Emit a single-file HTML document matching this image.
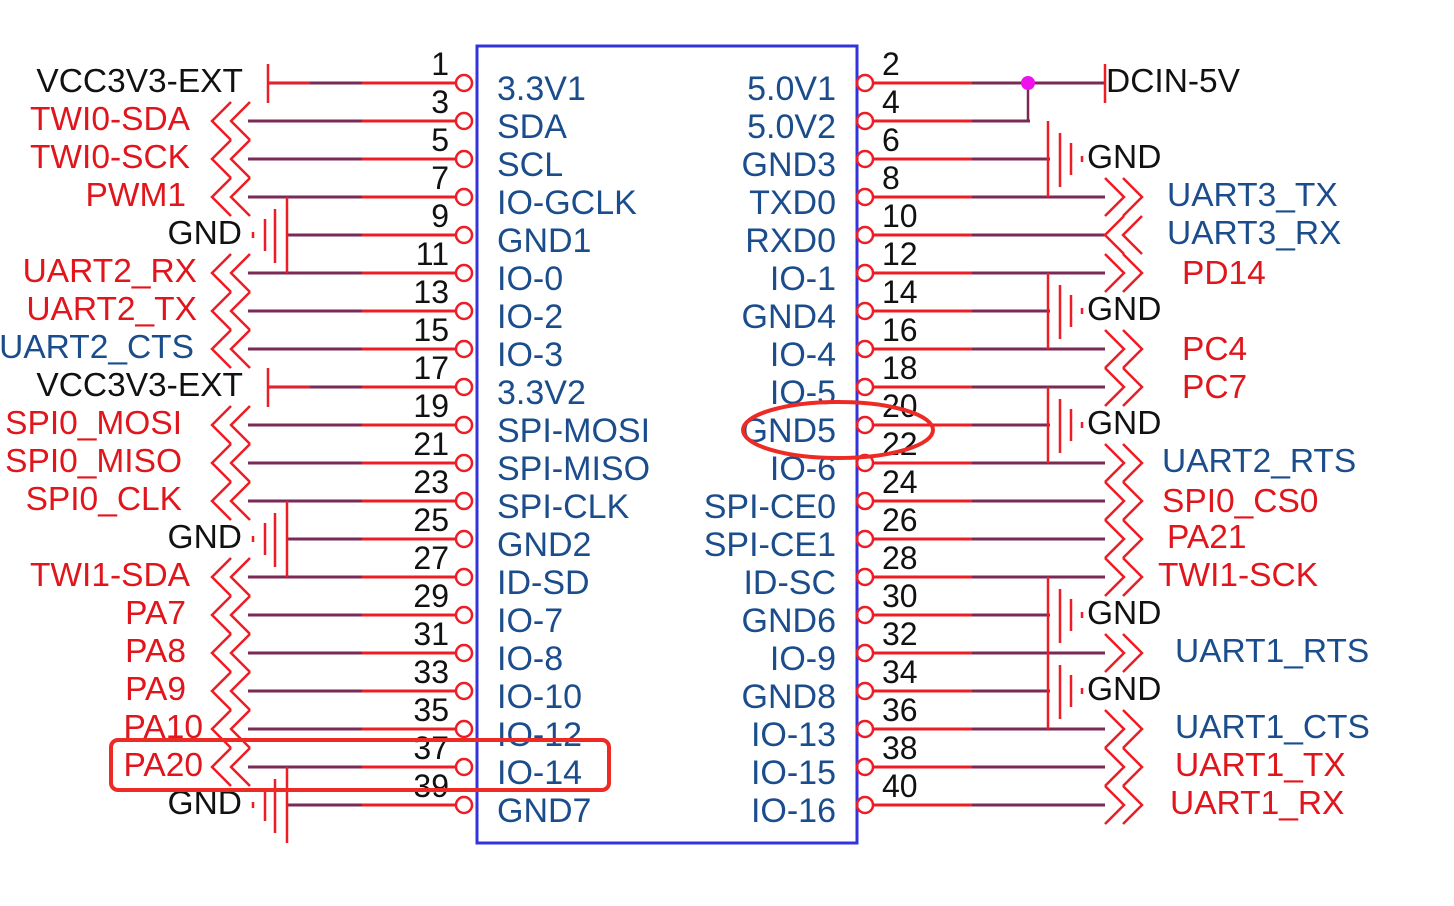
<!DOCTYPE html>
<html><head><meta charset="utf-8"><style>
html,body{margin:0;padding:0;background:#fff;width:1454px;height:906px;overflow:hidden}
svg{display:block}
text{font-family:"Liberation Sans",Arial,sans-serif}
.lb{font-size:33.5px;fill:#e0161c}
.bl{font-size:33.5px;fill:#1b4d8c}
.bk{font-size:33.5px;fill:#111}
.pn{font-size:32px;fill:#111}
.in{font-size:34px;fill:#1b4d8c}
</style></head><body>
<svg width="1454" height="906" viewBox="0 0 1454 906" xmlns="http://www.w3.org/2000/svg">
<defs>
<g id="lw"><line x1="248" y1="0" x2="362" y2="0" stroke="#7a2a55" stroke-width="3"/><line x1="362" y1="0" x2="456" y2="0" stroke="#ee1c24" stroke-width="3"/><circle cx="464" cy="0" r="8" fill="none" stroke="#ee1c24" stroke-width="2.5"/></g>
<g id="lc" fill="none" stroke="#ee1c24" stroke-width="2.5"><polyline points="231,-19 212,0 231,19"/><polyline points="250,-19 231,0 250,19"/></g>
<g id="rw"><line x1="872" y1="0" x2="972" y2="0" stroke="#ee1c24" stroke-width="3"/><line x1="972" y1="0" x2="1105" y2="0" stroke="#7a2a55" stroke-width="3"/><circle cx="865" cy="0" r="8" fill="none" stroke="#ee1c24" stroke-width="2.5"/></g>
<g id="rc" fill="none" stroke="#ee1c24" stroke-width="2.5"><polyline points="1105,-19 1124,0 1105,19"/><polyline points="1123,-19 1142,0 1123,19"/></g>
<g id="rci" fill="none" stroke="#ee1c24" stroke-width="2.5"><polyline points="1124,-19 1105,0 1124,19"/><polyline points="1142,-19 1123,0 1142,19"/></g>
<g id="lg" stroke="#ee1c24" stroke-width="2.5"><line x1="275" y1="-26" x2="275" y2="28"/><line x1="265" y1="-16" x2="265" y2="16"/><line x1="253" y1="-3" x2="253" y2="3"/></g>
<g id="rg" stroke="#ee1c24" stroke-width="2.5"><line x1="1060" y1="-26" x2="1060" y2="28"/><line x1="1071" y1="-16" x2="1071" y2="16"/><line x1="1082" y1="-3" x2="1082" y2="3"/></g>
</defs>
<rect x="477" y="46" width="380" height="797" fill="none" stroke="#3333dd" stroke-width="3"/>

<use href="#lw" y="83"/><use href="#lw" y="121"/><use href="#lw" y="159"/><use href="#lw" y="197"/><use href="#lw" y="235"/><use href="#lw" y="273"/><use href="#lw" y="311"/><use href="#lw" y="349"/><use href="#lw" y="387"/><use href="#lw" y="425"/><use href="#lw" y="463"/><use href="#lw" y="501"/><use href="#lw" y="539"/><use href="#lw" y="577"/><use href="#lw" y="615"/><use href="#lw" y="653"/><use href="#lw" y="691"/><use href="#lw" y="729"/><use href="#lw" y="767"/><use href="#lw" y="805"/>
<rect x="240" y="78" width="28" height="10" fill="#fff"/>
<rect x="240" y="382" width="28" height="10" fill="#fff"/>
<rect x="240" y="230" width="46" height="10" fill="#fff"/>
<rect x="240" y="534" width="46" height="10" fill="#fff"/>
<rect x="240" y="800" width="46" height="10" fill="#fff"/>
<g stroke="#ee1c24" stroke-width="2.5">
<line x1="268" y1="83" x2="310" y2="83"/><line x1="268" y1="64" x2="268" y2="103"/>
<line x1="268" y1="387" x2="310" y2="387"/><line x1="268" y1="368" x2="268" y2="407"/>
<line x1="287" y1="197" x2="287" y2="273"/><line x1="287" y1="501" x2="287" y2="577"/><line x1="287" y1="767" x2="287" y2="843"/>
</g>
<use href="#lg" y="235"/><use href="#lg" y="539"/><use href="#lg" y="805"/>
<use href="#lc" y="121"/><use href="#lc" y="159"/><use href="#lc" y="197"/><use href="#lc" y="273"/><use href="#lc" y="311"/><use href="#lc" y="349"/><use href="#lc" y="425"/><use href="#lc" y="463"/><use href="#lc" y="501"/><use href="#lc" y="577"/><use href="#lc" y="615"/><use href="#lc" y="653"/><use href="#lc" y="691"/><use href="#lc" y="729"/><use href="#lc" y="767"/>

<use href="#rw" y="83"/><use href="#rw" y="121"/><use href="#rw" y="159"/><use href="#rw" y="197"/><use href="#rw" y="235"/><use href="#rw" y="273"/><use href="#rw" y="311"/><use href="#rw" y="349"/><use href="#rw" y="387"/><use href="#rw" y="425"/><use href="#rw" y="463"/><use href="#rw" y="501"/><use href="#rw" y="539"/><use href="#rw" y="577"/><use href="#rw" y="615"/><use href="#rw" y="653"/><use href="#rw" y="691"/><use href="#rw" y="729"/><use href="#rw" y="767"/><use href="#rw" y="805"/>
<rect x="1030" y="116" width="80" height="10" fill="#fff"/>
<rect x="1050" y="154" width="60" height="10" fill="#fff"/>
<rect x="1050" y="306" width="60" height="10" fill="#fff"/>
<rect x="1050" y="420" width="60" height="10" fill="#fff"/>
<rect x="1050" y="610" width="60" height="10" fill="#fff"/>
<rect x="1050" y="686" width="60" height="10" fill="#fff"/>
<g stroke="#ee1c24" stroke-width="2.5">
<line x1="1028" y1="121" x2="1028" y2="83" stroke="#7a2a55"/>
<line x1="1105" y1="64" x2="1105" y2="103"/>
<line x1="1048" y1="121" x2="1048" y2="197"/>
<line x1="1048" y1="273" x2="1048" y2="349"/>
<line x1="1048" y1="387" x2="1048" y2="463"/>
<line x1="1048" y1="577" x2="1048" y2="729"/>
</g>
<circle cx="1028" cy="83" r="7" fill="#ee11ee"/>
<use href="#rg" y="159"/><use href="#rg" y="311"/><use href="#rg" y="425"/><use href="#rg" y="615"/><use href="#rg" y="691"/>
<use href="#rc" y="197"/><use href="#rci" y="235"/><use href="#rc" y="273"/><use href="#rc" y="349"/><use href="#rc" y="387"/><use href="#rc" y="463"/><use href="#rc" y="501"/><use href="#rc" y="539"/><use href="#rc" y="577"/><use href="#rc" y="653"/><use href="#rc" y="729"/><use href="#rc" y="767"/><use href="#rc" y="805"/>

<g class="in">
<text x="497" y="100">3.3V1</text><text x="497" y="138">SDA</text><text x="497" y="176">SCL</text><text x="497" y="214">IO-GCLK</text><text x="497" y="252">GND1</text><text x="497" y="290">IO-0</text><text x="497" y="328">IO-2</text><text x="497" y="366">IO-3</text><text x="497" y="404">3.3V2</text><text x="497" y="442">SPI-MOSI</text><text x="497" y="480">SPI-MISO</text><text x="497" y="518">SPI-CLK</text><text x="497" y="556">GND2</text><text x="497" y="594">ID-SD</text><text x="497" y="632">IO-7</text><text x="497" y="670">IO-8</text><text x="497" y="708">IO-10</text><text x="497" y="746">IO-12</text><text x="497" y="784">IO-14</text><text x="497" y="822">GND7</text>
</g>
<g class="in" text-anchor="end">
<text x="836" y="100">5.0V1</text><text x="836" y="138">5.0V2</text><text x="836" y="176">GND3</text><text x="836" y="214">TXD0</text><text x="836" y="252">RXD0</text><text x="836" y="290">IO-1</text><text x="836" y="328">GND4</text><text x="836" y="366">IO-4</text><text x="836" y="404">IO-5</text><text x="836" y="442">GND5</text><text x="836" y="480">IO-6</text><text x="836" y="518">SPI-CE0</text><text x="836" y="556">SPI-CE1</text><text x="836" y="594">ID-SC</text><text x="836" y="632">GND6</text><text x="836" y="670">IO-9</text><text x="836" y="708">GND8</text><text x="836" y="746">IO-13</text><text x="836" y="784">IO-15</text><text x="836" y="822">IO-16</text>
</g>
<g class="pn" text-anchor="end">
<text x="449" y="75">1</text><text x="449" y="113">3</text><text x="449" y="151">5</text><text x="449" y="189">7</text><text x="449" y="227">9</text><text x="449" y="265">11</text><text x="449" y="303">13</text><text x="449" y="341">15</text><text x="449" y="379">17</text><text x="449" y="417">19</text><text x="449" y="455">21</text><text x="449" y="493">23</text><text x="449" y="531">25</text><text x="449" y="569">27</text><text x="449" y="607">29</text><text x="449" y="645">31</text><text x="449" y="683">33</text><text x="449" y="721">35</text><text x="449" y="759">37</text><text x="449" y="797">39</text>
</g>
<g class="pn">
<text x="882" y="75">2</text><text x="882" y="113">4</text><text x="882" y="151">6</text><text x="882" y="189">8</text><text x="882" y="227">10</text><text x="882" y="265">12</text><text x="882" y="303">14</text><text x="882" y="341">16</text><text x="882" y="379">18</text><text x="882" y="417">20</text><text x="882" y="455">22</text><text x="882" y="493">24</text><text x="882" y="531">26</text><text x="882" y="569">28</text><text x="882" y="607">30</text><text x="882" y="645">32</text><text x="882" y="683">34</text><text x="882" y="721">36</text><text x="882" y="759">38</text><text x="882" y="797">40</text>
</g>
<g text-anchor="end">
<text class="bk" x="243" y="92">VCC3V3-EXT</text>
<text class="lb" x="190" y="130">TWI0-SDA</text>
<text class="lb" x="190" y="168">TWI0-SCK</text>
<text class="lb" x="186" y="206">PWM1</text>
<text class="bk" x="242" y="244">GND</text>
<text class="lb" x="197" y="282">UART2_RX</text>
<text class="lb" x="197" y="320">UART2_TX</text>
<text class="bl" x="194" y="358">UART2_CTS</text>
<text class="bk" x="243" y="396">VCC3V3-EXT</text>
<text class="lb" x="182" y="434">SPI0_MOSI</text>
<text class="lb" x="182" y="472">SPI0_MISO</text>
<text class="lb" x="182" y="510">SPI0_CLK</text>
<text class="bk" x="242" y="548">GND</text>
<text class="lb" x="190" y="586">TWI1-SDA</text>
<text class="lb" x="186" y="624">PA7</text>
<text class="lb" x="186" y="662">PA8</text>
<text class="lb" x="186" y="700">PA9</text>
<text class="lb" x="203" y="738">PA10</text>
<text class="lb" x="203" y="776">PA20</text>
<text class="bk" x="242" y="814">GND</text>
</g>
<text class="bk" x="1106" y="92">DCIN-5V</text>
<text class="bk" x="1087" y="168">GND</text>
<text class="bl" x="1167" y="206">UART3_TX</text>
<text class="bl" x="1167" y="244">UART3_RX</text>
<text class="lb" x="1182" y="284">PD14</text>
<text class="bk" x="1087" y="320">GND</text>
<text class="lb" x="1182" y="360">PC4</text>
<text class="lb" x="1182" y="398">PC7</text>
<text class="bk" x="1087" y="434">GND</text>
<text class="bl" x="1162" y="472">UART2_RTS</text>
<text class="lb" x="1162" y="512">SPI0_CS0</text>
<text class="lb" x="1167" y="548">PA21</text>
<text class="lb" x="1158" y="586">TWI1-SCK</text>
<text class="bk" x="1087" y="624">GND</text>
<text class="bl" x="1175" y="662">UART1_RTS</text>
<text class="bk" x="1087" y="700">GND</text>
<text class="bl" x="1175" y="738">UART1_CTS</text>
<text class="lb" x="1175" y="776">UART1_TX</text>
<text class="lb" x="1170" y="814">UART1_RX</text>

<rect x="111" y="740" width="498" height="50" rx="7" fill="none" stroke="#ee2a24" stroke-width="4"/>
<ellipse cx="838" cy="430" rx="95" ry="28" fill="none" stroke="#ee2a24" stroke-width="4"/>
</svg>
</body></html>
